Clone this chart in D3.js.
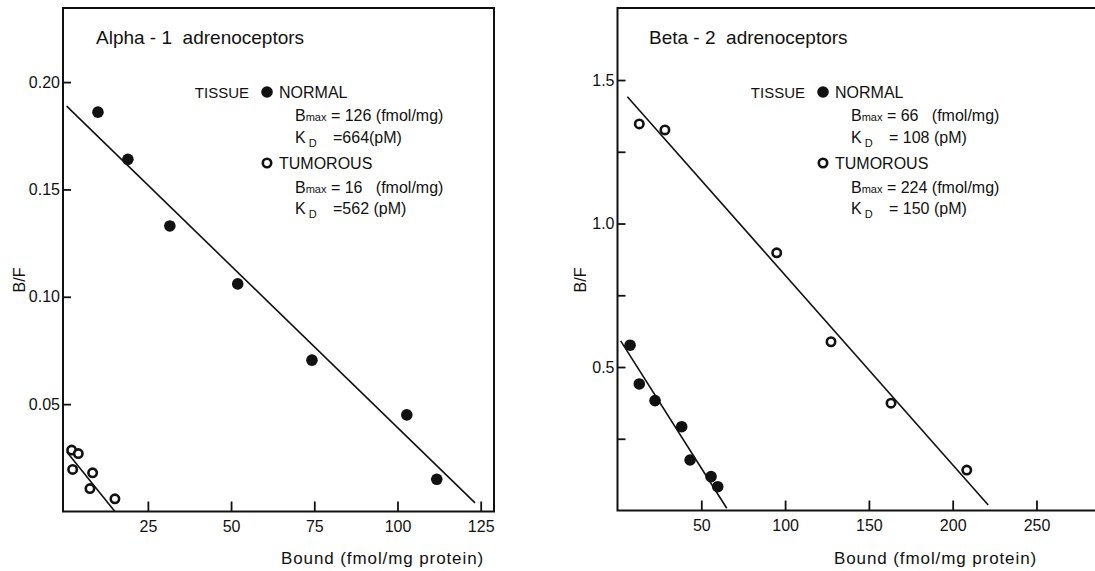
<!DOCTYPE html>
<html>
<head>
<meta charset="utf-8">
<script src="https://cdn.jsdelivr.net/npm/d3@7"></script>
<style>
  body { margin: 0; background: #fff; }
  svg { display: block; font-family: "Liberation Sans", Arial, sans-serif; }
  svg text { white-space: pre; }
</style>
</head>
<body>
<div id="chart"></div>
<script>
// ---- data ----
// Alpha-1 panel
const alphaNormalBound = [10, 19, 31.6, 52, 74.3, 102.8, 111.8];
const alphaNormalBF    = [0.186, 0.164, 0.133, 0.106, 0.0705, 0.045, 0.015];
const alphaTumorBound  = [2.1, 4.1, 2.4, 8.4, 7.6, 15.1];
const alphaTumorBF     = [0.0286, 0.027, 0.0196, 0.018, 0.0107, 0.0059];
const alphaNormalFit   = [[0.6, 0.1888], [123.3, 0.004]];
const alphaTumorFit    = [[0.6, 0.0278], [15.1, 0]];
const alphaXTicks = [25, 50, 75, 100, 125];
const alphaYTicks = [0.05, 0.10, 0.15, 0.20];
const alphaYLabels = ["0.05", "0.10", "0.15", "0.20"];

// Beta-2 panel
const betaNormalBound = [7.5, 13, 22.4, 38.3, 43.3, 55.8, 59.8];
const betaNormalBF    = [0.576, 0.441, 0.383, 0.292, 0.176, 0.118, 0.083];
const betaTumorBound  = [13, 28.3, 95, 127.4, 163.2, 208.4];
const betaTumorBF     = [1.347, 1.326, 0.898, 0.588, 0.374, 0.141];
const betaNormalFit   = [[1.9, 0.591], [65.2, 0.008]];
const betaTumorFit    = [[5.9, 1.442], [221.2, 0.019]];
const betaXTicks = [50, 100, 150, 200, 250];
const betaYTicks = [0.25, 0.5, 0.75, 1.0, 1.25, 1.5];
const betaYLabels = ["", "0.5", "", "1.0", "", "1.5"];

// legend text
const alphaLegend = { title: "Alpha - 1  adrenoceptors", nB: "126 (fmol/mg)", nK: "=664(pM)", tB: "16   (fmol/mg)", tK: "=562 (pM)" };
const betaLegend  = { title: "Beta - 2  adrenoceptors",  nB: "66   (fmol/mg)", nK: "= 108 (pM)", tB: "224 (fmol/mg)", tK: "= 150 (pM)" };

const svg = d3.select("#chart").append("svg")
    .attr("width", 1095)
    .attr("height", 571);

function drawPanel(p) {
    const g = svg.append("g");

    const x = d3.scaleLinear().domain(p.xDomain).range([p.left, p.right]);
    const y = d3.scaleLinear().domain(p.yDomain).range([p.bottom, p.top]);

    // y axis, ticks pointing inward
    g.append("g")
        .attr("transform", `translate(${p.left},0)`)
        .call(d3.axisLeft(y).tickValues(p.yTicks).tickSize(-8).tickPadding(3)
            .tickFormat((d, i) => p.yLabels[i]))
        .call(a => a.select(".domain").remove())
        .call(a => a.selectAll("line").attr("stroke", "#111").attr("stroke-width", 1.8))
        .call(a => a.selectAll("text").attr("font-size", 16).attr("fill", "#111")
            .attr("font-family", "Liberation Sans, Arial, sans-serif"));

    // x axis
    g.append("g")
        .attr("transform", `translate(0,${p.bottom})`)
        .call(d3.axisBottom(x).tickValues(p.xTicks).tickSize(-10).tickPadding(9))
        .call(a => a.select(".domain").remove())
        .call(a => a.selectAll("line").attr("stroke", "#111").attr("stroke-width", 1.8))
        .call(a => a.selectAll("text").attr("font-size", 16).attr("fill", "#111")
            .attr("font-family", "Liberation Sans, Arial, sans-serif"));

    // frame
    g.append("rect")
        .attr("x", p.left).attr("y", p.top)
        .attr("width", p.frameRight - p.left).attr("height", p.bottom - p.top)
        .attr("fill", "none").attr("stroke", "#111").attr("stroke-width", 2);

    // fitted lines
    const line = d3.line().x(d => x(d[0])).y(d => y(d[1]));
    [p.normalFit, p.tumorFit].forEach(f => {
        g.append("path").attr("d", line(f))
            .attr("fill", "none").attr("stroke", "#111").attr("stroke-width", 1.6);
    });

    // points
    g.selectAll(".normal").data(d3.zip(p.normalBound, p.normalBF)).join("circle")
        .attr("cx", d => x(d[0])).attr("cy", d => y(d[1])).attr("r", 5.8)
        .attr("fill", "#111");
    g.selectAll(".tumor").data(d3.zip(p.tumorBound, p.tumorBF)).join("circle")
        .attr("cx", d => x(d[0])).attr("cy", d => y(d[1])).attr("r", 4.2)
        .attr("fill", "#fff").attr("stroke", "#111").attr("stroke-width", 2.6);

    // axis titles
    g.append("text")
        .attr("transform", `translate(${p.yLabelX},280) rotate(-90)`)
        .attr("text-anchor", "middle").attr("dy", "0.35em")
        .attr("font-size", 16).attr("fill", "#111")
        .text("B/F");
    g.append("text")
        .attr("x", p.xLabelX).attr("y", 564)
        .attr("font-size", 17).attr("fill", "#111").attr("letter-spacing", 0.9)
        .text("Bound (fmol/mg protein)");

    // panel title
    g.append("text")
        .attr("x", p.titleX).attr("y", 44)
        .attr("font-size", 19).attr("fill", "#111")
        .text(p.legend.title);

    // legend
    const lx = p.legendX;   // x of the symbols
    const tx = lx + 12;     // x of NORMAL / TUMOROUS
    const bx = lx + 28;     // x of Bmax / KD lines
    g.append("text").attr("x", lx - 18).attr("y", 98).attr("text-anchor", "end")
        .attr("font-size", 15).attr("fill", "#111").text("TISSUE");
    g.append("circle").attr("cx", lx).attr("cy", 92).attr("r", 5.8).attr("fill", "#111");
    g.append("text").attr("x", tx).attr("y", 98).attr("font-size", 16).attr("fill", "#111").text("NORMAL");
    g.append("circle").attr("cx", lx).attr("cy", 163).attr("r", 4.2)
        .attr("fill", "#fff").attr("stroke", "#111").attr("stroke-width", 2.6);
    g.append("text").attr("x", tx).attr("y", 169).attr("font-size", 16).attr("fill", "#111").text("TUMOROUS");

    function bmax(yy, val) {
        const t = g.append("text").attr("x", bx).attr("y", yy).attr("font-size", 16).attr("fill", "#111");
        t.append("tspan").text("B");
        t.append("tspan").attr("font-size", 11).text("max");
        t.append("tspan").text(" = " + val);
    }
    function kd(yy, val) {
        const t = g.append("text").attr("x", bx).attr("y", yy).attr("font-size", 16).attr("fill", "#111");
        t.append("tspan").text("K");
        t.append("tspan").attr("font-size", 11).attr("dy", 4).text(" D");
        t.append("tspan").attr("dy", -4).attr("x", bx + 38).text(val);
    }
    bmax(121, p.legend.nB);
    kd(143, p.legend.nK);
    bmax(193, p.legend.tB);
    kd(214, p.legend.tK);
}

drawPanel({
    left: 63, right: 494, frameRight: 494, top: 8, bottom: 511.5,
    xDomain: [-0.5, 129], yDomain: [0, 0.2345],
    xTicks: alphaXTicks, yTicks: alphaYTicks, yLabels: alphaYLabels,
    normalBound: alphaNormalBound, normalBF: alphaNormalBF,
    tumorBound: alphaTumorBound, tumorBF: alphaTumorBF,
    normalFit: alphaNormalFit, tumorFit: alphaTumorFit,
    legend: alphaLegend, legendX: 267, titleX: 96,
    yLabelX: 19, xLabelX: 281
});

drawPanel({
    left: 617.5, right: 1100, frameRight: 1100, top: 8, bottom: 510.5,
    xDomain: [0, 287.9], yDomain: [0, 1.751],
    xTicks: betaXTicks, yTicks: betaYTicks, yLabels: betaYLabels,
    normalBound: betaNormalBound, normalBF: betaNormalBF,
    tumorBound: betaTumorBound, tumorBF: betaTumorBF,
    normalFit: betaNormalFit, tumorFit: betaTumorFit,
    legend: betaLegend, legendX: 823, titleX: 649,
    yLabelX: 580, xLabelX: 834
});
</script>
</body>
</html>
